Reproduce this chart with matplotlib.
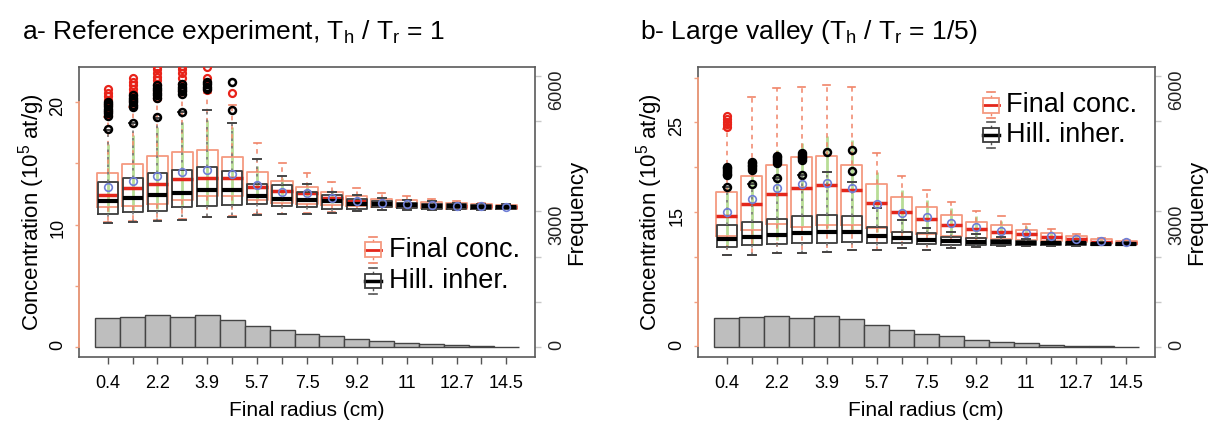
import numpy as np
import matplotlib
matplotlib.use("Agg")
import matplotlib.pyplot as plt
import matplotlib.transforms as mtransforms
from matplotlib.patches import Rectangle
from matplotlib.lines import Line2D

plt.rcParams['font.family'] = 'Liberation Sans'
plt.rcParams['mathtext.fontset'] = 'custom'
plt.rcParams['mathtext.rm'] = 'Liberation Sans'
plt.rcParams['mathtext.it'] = 'Liberation Sans:italic'

# ---- data ----
radius_labels = ['0.4', '2.2', '3.9', '5.7', '7.5', '9.2', '11', '12.7', '14.5']
pos = np.arange(1, 18)

# panel a : reference experiment
a_red_lo = [10.2, 10.25, 10.35, 10.45, 10.6, 10.7, 10.85, 10.9, 10.95, 11.0, 11.1, 11.2, 11.25, 11.25, 11.25, 11.25, 11.25]
a_red_q1 = [11.45, 11.5, 11.7, 12.0, 12.3, 12.3, 12.0, 11.8, 11.7, 11.6, 11.5, 11.45, 11.4, 11.35, 11.3, 11.3, 11.3]
a_red_med = [12.4, 12.95, 13.35, 13.7, 13.85, 13.8, 13.1, 12.75, 12.6, 12.2, 11.9, 11.8, 11.7, 11.6, 11.55, 11.5, 11.45]
a_red_q3 = [14.25, 14.95, 15.6, 15.9, 16.1, 15.5, 14.3, 13.6, 13.1, 12.7, 12.3, 12.1, 12.0, 11.85, 11.8, 11.7, 11.6]
a_red_hi = [18.8, 19.6, 20.2, 20.6, 20.8, 19.8, 16.7, 15.05, 14.2, 13.5, 12.95, 12.6, 12.3, 12.05, 11.9, 11.8, 11.7]
a_red_out = [[19.0, 19.3, 19.6, 19.9, 20.2, 20.5, 20.8, 21.1],
             [19.8, 20.1, 20.5, 20.8, 21.1, 21.4, 21.7, 22.0],
             [20.4, 20.9, 21.4, 21.8, 22.1, 22.4, 22.7, 22.9],
             [20.9, 21.5, 22.0, 22.4, 22.7, 23.0],
             [21.0, 22.0, 22.9],
             [20.8]] + [[]] * 11
a_blk_lo = [10.1, 10.2, 10.3, 10.4, 10.6, 10.65, 10.8, 10.85, 10.9, 10.95, 11.1, 11.2, 11.2, 11.2, 11.2, 11.2, 11.25]
a_blk_q1 = [10.9, 11.05, 11.1, 11.4, 11.55, 11.6, 11.7, 11.5, 11.45, 11.3, 11.3, 11.4, 11.35, 11.3, 11.25, 11.25, 11.3]
a_blk_med = [11.9, 12.2, 12.4, 12.6, 12.8, 12.8, 12.3, 12.1, 12.0, 11.9, 11.7, 11.65, 11.6, 11.55, 11.5, 11.45, 11.45]
a_blk_q3 = [13.5, 13.85, 14.2, 14.5, 14.7, 14.4, 13.35, 13.2, 12.7, 12.4, 12.1, 11.95, 11.8, 11.7, 11.65, 11.6, 11.55]
a_blk_hi = [17.7, 18.3, 18.75, 19.2, 19.4, 18.3, 15.35, 13.95, 13.3, 12.7, 12.4, 12.2, 12.0, 11.9, 11.8, 11.7, 11.65]
a_blk_out = [[17.8, 18.9, 19.1, 19.3, 19.5, 19.7, 19.9, 20.0],
             [18.3, 19.6, 19.8, 20.0, 20.2, 20.4, 20.6],
             [18.8, 20.4, 20.6, 20.8, 21.0, 21.2, 21.4],
             [19.25, 20.7, 20.9, 21.1, 21.3, 21.5],
             [21.1, 21.3, 21.5, 21.7],
             [19.4, 21.65]] + [[]] * 11
a_mean = [13.1, 13.55, 13.96, 14.3, 14.5, 14.1, 13.2, 12.7, 12.6, 12.2, 11.9, 11.8, 11.7, 11.6, 11.55, 11.5, 11.45]
a_sd_lo = [11.0, 11.2, 11.3, 11.5, 11.6, 11.6, 11.9, 11.9, 11.9, 11.8, 11.7, 11.6, 11.5, 11.45, 11.4, 11.4, 11.35]
a_sd_hi = [16.6, 17.3, 18.0, 18.4, 18.6, 18.0, 14.8, 13.8, 13.3, 12.8, 12.4, 12.2, 12.0, 11.8, 11.7, 11.6, 11.55]
a_freq = [630, 665, 695, 665, 695, 605, 470, 370, 278, 236, 177, 133, 96, 59, 30, 15, 5]

# panel b : large valley
b_red_lo = [10.2, 10.25, 10.4, 10.45, 10.5, 10.7, 10.8, 10.95, 10.8, 10.95, 11.1, 11.2, 11.2, 11.25, 11.3, 11.3, 11.3]
b_red_q1 = [12.3, 13.0, 13.7, 13.35, 13.5, 13.5, 13.2, 12.8, 12.5, 12.3, 12.1, 11.95, 11.85, 11.75, 11.6, 11.5, 11.4]
b_red_med = [14.5, 15.85, 17.0, 17.7, 18.0, 17.5, 16.0, 15.05, 14.2, 13.6, 13.1, 12.8, 12.5, 12.25, 11.95, 11.7, 11.55]
b_red_q3 = [17.2, 19.0, 20.3, 21.2, 21.3, 20.3, 18.1, 16.65, 15.6, 14.7, 13.9, 13.5, 13.0, 12.6, 12.3, 12.0, 11.8]
b_red_hi = [24.3, 27.9, 28.8, 29.0, 29.2, 29.0, 21.6, 19.0, 17.5, 16.1, 15.15, 14.5, 13.7, 13.1, 12.55, 12.1, 11.9]
b_red_out = [[24.5, 24.8, 25.1, 25.4, 25.7]] + [[]] * 16
b_blk_lo = [10.2, 10.25, 10.4, 10.45, 10.5, 10.7, 10.8, 10.95, 10.8, 10.95, 11.1, 11.2, 11.2, 11.2, 11.25, 11.3, 11.3]
b_blk_q1 = [11.05, 11.3, 11.4, 11.5, 11.55, 11.6, 11.5, 11.5, 11.4, 11.35, 11.3, 11.3, 11.3, 11.3, 11.3, 11.3, 11.3]
b_blk_med = [11.95, 12.25, 12.4, 12.6, 12.8, 12.8, 12.35, 12.05, 11.9, 11.8, 11.7, 11.6, 11.55, 11.55, 11.5, 11.45, 11.45]
b_blk_q3 = [13.55, 13.9, 14.2, 14.55, 14.7, 14.5, 13.35, 12.8, 12.7, 12.25, 12.05, 11.9, 11.8, 11.7, 11.65, 11.55, 11.5]
b_blk_hi = [17.8, 18.1, 18.8, 19.1, 19.5, 18.4, 15.5, 14.1, 13.2, 12.8, 12.5, 12.2, 12.0, 11.9, 11.8, 11.7, 11.6]
b_blk_out = [[17.8, 19.1, 19.3, 19.5, 19.7, 19.9, 20.0],
             [18.1, 19.7, 19.9, 20.1, 20.3, 20.5, 20.6],
             [18.8, 20.5, 20.7, 20.9, 21.1, 21.3],
             [19.1, 20.8, 21.0, 21.2, 21.4, 21.6],
             [21.65],
             [19.6, 21.9]] + [[]] * 11
b_mean = [15.05, 16.5, 17.65, 18.1, 18.2, 17.65, 15.9, 14.9, 14.4, 13.8, 13.3, 12.9, 12.6, 12.3, 12.0, 11.75, 11.6]
b_sd_lo = [11.1, 11.3, 11.9, 13.4, 13.2, 13.0, 12.8, 12.6, 12.4, 12.2, 12.0, 11.9, 11.8, 11.7, 11.6, 11.5, 11.45]
b_sd_hi = [17.8, 19.7, 21.9, 22.7, 23.5, 23.0, 19.5, 17.5, 16.3, 15.4, 14.6, 14.0, 13.4, 12.9, 12.4, 12.0, 11.75]
b_freq = [648, 670, 685, 648, 685, 612, 480, 369, 280, 243, 162, 118, 81, 44, 15, 15, 3]

RED_BOX = '#f59a80'
RED_MED = '#e3261b'
RED_WH = '#f08468'
BLK_BOX = '#3c3c3c'
ORANGE_AX = '#f4a080'


def make_stats(lo, q1, med, q3, hi, out):
    return [dict(whislo=lo[i], q1=q1[i], med=med[i], q3=q3[i], whishi=hi[i], fliers=out[i])
            for i in range(len(lo))]


def draw_key(ax, xc, yc, boxc, medc, whc, lw_med):
    t = ax.transAxes
    bw, bh, cap = 0.034, 0.05, 0.045
    ax.add_patch(Rectangle((xc - bw / 2, yc - bh / 2), bw, bh, fill=False, ec=boxc, lw=1.3,
                           transform=t, clip_on=False, zorder=6))
    ax.add_line(Line2D([xc - bw / 2, xc + bw / 2], [yc, yc], color=medc, lw=lw_med, transform=t, clip_on=False))
    for s in (1, -1):
        ax.add_line(Line2D([xc, xc], [yc + s * bh / 2, yc + s * cap], color=whc, lw=1, ls=(0, (2, 2)),
                           transform=t, clip_on=False))
        ax.add_line(Line2D([xc - 0.008, xc + 0.008], [yc + s * cap, yc + s * cap], color=whc, lw=1.2,
                           transform=t, clip_on=False))


def panel(rect, red, blk, mean, sd_lo, sd_hi, freq, ylim, yticks, ylabels, axis_top, key):
    ax = fig.add_axes(rect)
    ax2 = ax.twinx()
    ax.set_zorder(ax2.get_zorder() + 1)
    ax.patch.set_visible(False)

    # frequency histogram
    ax2.bar(pos, freq, width=1.0, color='#bebebe', edgecolor='#444444', lw=1.0)
    ax2.set_ylim(-225, 6200)
    ax2.set_yticks(np.arange(0, 7000, 1000))
    ax2.set_yticklabels(['0', '', '', '3000', '', '', '6000'])
    ax2.tick_params(axis='y', length=4.5, width=1, color='#c8c8c8', labelsize=13, pad=5,
                    labelrotation=90, labelcolor='#222222')
    for s in ax2.spines.values():
        s.set_visible(False)

    ax.vlines(pos, sd_lo, sd_hi, color='#b8dd96', lw=2, zorder=1)
    ax.bxp(make_stats(*red), positions=pos, widths=0.85, capwidths=0.28, zorder=3,
           boxprops=dict(color=RED_BOX, lw=1.3),
           medianprops=dict(color=RED_MED, lw=2.5),
           whiskerprops=dict(color=RED_WH, lw=1.1, ls=(0, (3, 3))),
           capprops=dict(color=RED_WH, lw=1.2),
           flierprops=dict(marker='o', mfc='none', mec='#e8231a', mew=1.6, ms=5))
    ax.bxp(make_stats(*blk), positions=pos, widths=0.8, capwidths=0.32, zorder=4,
           boxprops=dict(color=BLK_BOX, lw=1.3),
           medianprops=dict(color='black', lw=3),
           whiskerprops=dict(color='#7a7a7a', lw=1.2, ls=(0, (1.5, 3))),
           capprops=dict(color='#444444', lw=1.4),
           flierprops=dict(marker='o', mfc='none', mec='black', mew=1.8, ms=5))
    ax.plot(pos, mean, 'o', mfc='none', mec='#6f7fd6', mew=1.2, ms=5.5, zorder=5)

    ax.set_xlim(-0.15, 18.15)
    ax.set_ylim(*ylim)
    ax.set_xticks(pos)
    xl = [''] * 17
    xl[::2] = radius_labels
    ax.set_xticklabels(xl)
    ax.tick_params(axis='x', length=5, width=1, color='#555555', labelsize=13, pad=8)
    ax.set_yticks(yticks)
    ax.set_yticklabels(ylabels)
    ax.tick_params(axis='y', length=3, width=1, color=ORANGE_AX, labelsize=13, pad=6,
                   labelrotation=90)
    for s in ax.spines.values():
        s.set_color('#5a5a5a')
        s.set_linewidth(1.2)
    tr = mtransforms.blended_transform_factory(ax.transAxes, ax.transData)
    ax.plot([0, 0], [0, axis_top], color=ORANGE_AX, lw=1.3, transform=tr, clip_on=False, zorder=10)

    # legend
    kx, ky1, ky2, tx = key
    draw_key(ax, kx, ky1, RED_BOX, RED_MED, RED_WH, 2)
    draw_key(ax, kx, ky2, BLK_BOX, 'black', '#555555', 2.5)
    ax.text(tx, ky1, 'Final conc.', transform=ax.transAxes, fontsize=19.5, va='center', ha='left')
    ax.text(tx, ky2, 'Hill. inher.', transform=ax.transAxes, fontsize=19.5, va='center', ha='left')
    return ax


W, H = 1218, 426
fig = plt.figure(figsize=(W / 100, H / 100), dpi=100)

panel([79 / W, 69 / H, 456 / W, 290 / H],
      (a_red_lo, a_red_q1, a_red_med, a_red_q3, a_red_hi, a_red_out),
      (a_blk_lo, a_blk_q1, a_blk_med, a_blk_q3, a_blk_hi, a_blk_out),
      a_mean, a_sd_lo, a_sd_hi, a_freq,
      (-0.85, 22.9), [0, 5, 10, 15, 20], ['0', '', '10', '', '20'], 20,
      (0.645, 0.37, 0.262, 0.68))
panel([698 / W, 69 / H, 457 / W, 290 / H],
      (b_red_lo, b_red_q1, b_red_med, b_red_q3, b_red_hi, b_red_out),
      (b_blk_lo, b_blk_q1, b_blk_med, b_blk_q3, b_blk_hi, b_blk_out),
      b_mean, b_sd_lo, b_sd_hi, b_freq,
      (-1.2, 31.2), [0, 5, 10, 15, 20, 25, 30], ['0', '', '', '15', '', '25', ''], 30,
      (0.641, 0.868, 0.766, 0.675))

# titles and axis labels
fig.text(22 / W, 1 - 32 / H, r'a- Reference experiment, T$_\mathregular{h}$ / T$_\mathregular{r}$ = 1',
         fontsize=19, va='center', ha='left')
fig.text(640 / W, 1 - 32 / H, r'b- Large valley (T$_\mathregular{h}$ / T$_\mathregular{r}$ = 1/5)',
         fontsize=19, va='center', ha='left')
for xc in (32, 650):
    fig.text(xc / W, 1 - 212 / H, r'Concentration (10$^\mathregular{5}$ at/g)', rotation=90,
             fontsize=16, va='center', ha='center')
for xc in (577, 1197):
    fig.text(xc / W, 1 - 212 / H, 'Frequency', rotation=90, fontsize=16, va='center', ha='center')
for xc in (307, 926):
    fig.text(xc / W, 1 - 410 / H, 'Final radius (cm)', fontsize=15, va='center', ha='center')

fig.savefig('out.png', dpi=100)
